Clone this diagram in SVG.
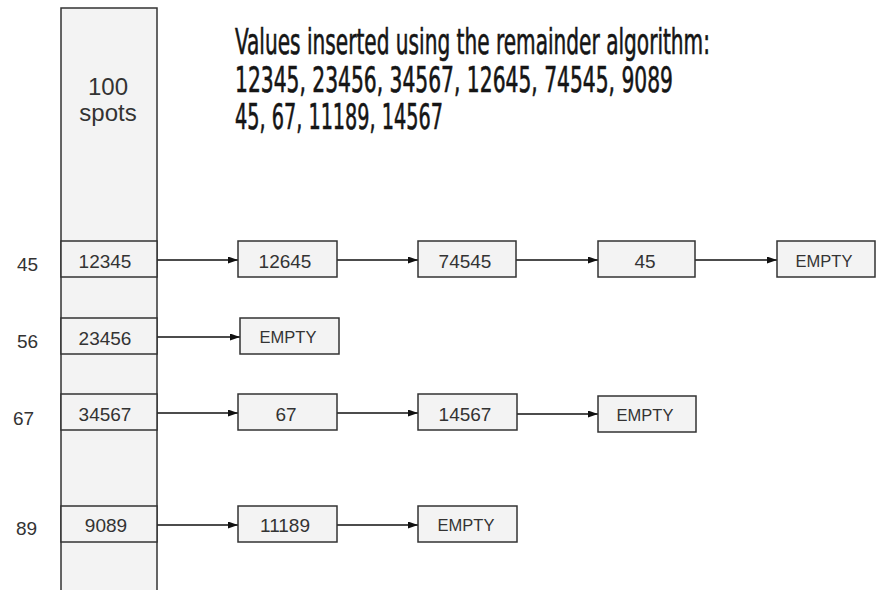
<svg xmlns="http://www.w3.org/2000/svg" width="881" height="590" viewBox="0 0 881 590">
<style>
.cell{fill:#f3f3f3;stroke:#333;stroke-width:1.5}
.t{font-family:"Liberation Sans",Arial,sans-serif;font-size:19px;fill:#333;text-anchor:middle}
.e{font-family:"Liberation Sans",Arial,sans-serif;font-size:16.5px;fill:#333;text-anchor:middle}
.lbl{font-family:"Liberation Sans",Arial,sans-serif;font-size:19px;fill:#333}
.title{font-family:"DejaVu Sans Condensed","DejaVu Sans",sans-serif;font-stretch:condensed;font-size:35px;fill:#151515;stroke:#151515;stroke-width:0.6}
.c{stroke:#111;stroke-width:1.3;fill:none;marker-end:url(#ah)}
</style>
<defs>
<marker id="ah" markerUnits="userSpaceOnUse" markerWidth="11" markerHeight="8" refX="10" refY="3.5" orient="auto">
<path d="M0,0 L10,3.5 L0,7 z" fill="#111"/>
</marker>
</defs>
<rect width="881" height="590" fill="#fff"/>
<g id="title">
<text class="title" x="235" y="54" textLength="475" lengthAdjust="spacingAndGlyphs">Values inserted using the remainder algorithm:</text>
<text class="title" x="235" y="92" textLength="438" lengthAdjust="spacingAndGlyphs">12345, 23456, 34567, 12645, 74545, 9089</text>
<text class="title" x="235" y="129" textLength="208" lengthAdjust="spacingAndGlyphs">45, 67, 11189, 14567</text>
</g>
<g id="table">
<rect class="cell" x="61" y="8" width="96" height="600"/>
<text class="t" x="108" y="95" style="font-size:24px">100</text>
<text class="t" x="108" y="121" style="font-size:24px">spots</text>
</g>
<g id="labels">
<text class="lbl" x="17" y="271">45</text>
<text class="lbl" x="17" y="348">56</text>
<text class="lbl" x="13" y="425">67</text>
<text class="lbl" x="16" y="535">89</text>
</g>
<g id="connectors">
<path class="c" d="M157,260 H238"/>
<path class="c" d="M337,260 H418"/>
<path class="c" d="M516,260 H598"/>
<path class="c" d="M695,260 H777"/>
<path class="c" d="M157,337 H240"/>
<path class="c" d="M157,413 H238"/>
<path class="c" d="M337,413 H418"/>
<path class="c" d="M517,414 H598"/>
<path class="c" d="M157,525 H238"/>
<path class="c" d="M337,525 H418"/>
</g>
<g id="cell-45"><rect class="cell" x="61" y="241" width="96" height="36"/><text class="t" x="105" y="268">12345</text></g>
<g id="cell-56"><rect class="cell" x="61" y="318" width="96" height="36"/><text class="t" x="105" y="345">23456</text></g>
<g id="cell-67"><rect class="cell" x="61" y="394" width="96" height="36"/><text class="t" x="105" y="421">34567</text></g>
<g id="cell-89"><rect class="cell" x="61" y="506" width="96" height="36"/><text class="t" x="106" y="532">9089</text></g>
<g id="n-12645"><rect class="cell" x="238" y="241" width="99" height="36"/><text class="t" x="285" y="268">12645</text></g>
<g id="n-74545"><rect class="cell" x="418" y="241" width="98" height="36"/><text class="t" x="465" y="268">74545</text></g>
<g id="n-45"><rect class="cell" x="598" y="241" width="97" height="36"/><text class="t" x="645" y="268">45</text></g>
<g id="n-empty-45"><rect class="cell" x="777" y="241" width="98" height="36"/><text class="e" x="824" y="267">EMPTY</text></g>
<g id="n-empty-56"><rect class="cell" x="240" y="318" width="99" height="36"/><text class="e" x="288" y="343">EMPTY</text></g>
<g id="n-67"><rect class="cell" x="238" y="394" width="99" height="36"/><text class="t" x="286" y="421">67</text></g>
<g id="n-14567"><rect class="cell" x="418" y="394" width="99" height="36"/><text class="t" x="465" y="421">14567</text></g>
<g id="n-empty-67"><rect class="cell" x="598" y="396" width="98" height="36"/><text class="e" x="645" y="421">EMPTY</text></g>
<g id="n-11189"><rect class="cell" x="238" y="506" width="99" height="36"/><text class="t" x="285" y="532">11189</text></g>
<g id="n-empty-89"><rect class="cell" x="418" y="506" width="99" height="36"/><text class="e" x="466" y="531">EMPTY</text></g>
</svg>
